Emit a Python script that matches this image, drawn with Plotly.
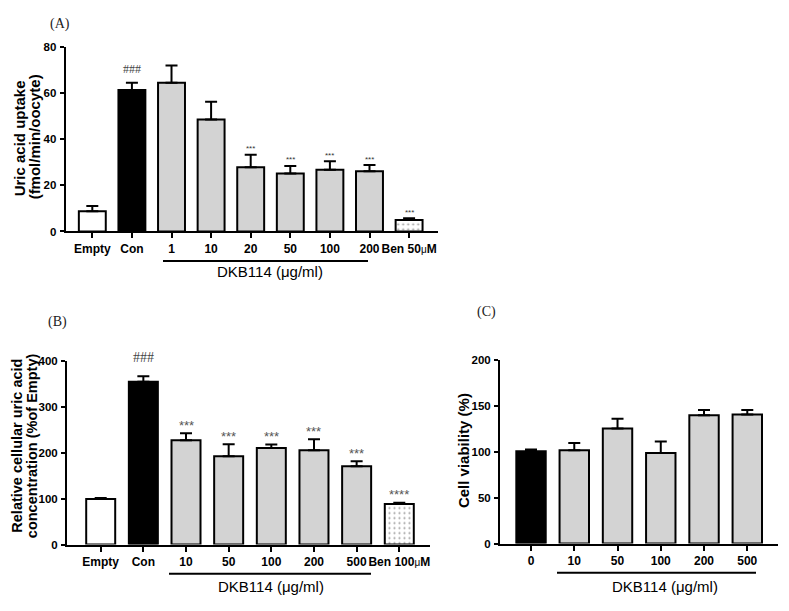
import plotly.graph_objects as go

W, H = 789, 611

# ---------------- data ----------------
a_labels = ["Empty", "Con", "1", "10", "20", "50", "100", "200", "Ben 50μM"]
a_values = [8.8, 61.3, 64.5, 48.5, 27.8, 25.1, 26.7, 26.1, 5.0]
a_errors = [2.2, 3.2, 7.4, 7.7, 5.5, 3.3, 3.7, 2.7, 0.7]
a_marks = ["", "###", "", "", "***", "***", "***", "***", "***"]

b_labels = ["Empty", "Con", "10", "50", "100", "200", "500", "Ben 100μM"]
b_values = [99, 354, 227, 192, 210, 205, 170, 88]
b_errors = [2, 12, 15, 26, 7.5, 24, 11, 3]
b_marks = ["", "###", "***", "***", "***", "***", "***", "****"]

c_labels = ["0", "10", "50", "100", "200", "500"]
c_values = [100.5, 101.7, 125.2, 98.5, 139.8, 140.5]
c_errors = [2.0, 7.8, 10.7, 12.5, 5.7, 5.0]

group_label = "DKB114 (μg/ml)"

WHITE, BLACK, GREY = "#ffffff", "#000000", "#d3d3d3"
c_colors = [BLACK] + [GREY] * 5
a_pat = [""] * 8 + ["."]
b_pat = [""] * 7 + ["."]
c_pat = [""] * 6
a_fill = [WHITE, BLACK] + [GREY] * 6 + [WHITE]
b_fill = [WHITE, BLACK] + [GREY] * 5 + [WHITE]


def px_x(x):
    return x / W


def px_y(y):
    return 1 - y / H


def xdom(a, b):
    return [a / W, b / W]


def ydom(top, bottom):
    return [1 - bottom / H, 1 - top / H]


def tick_html(lbl):
    if "μM" in lbl:
        head = lbl.replace("μM", "")
        return head + "<span style='font-size:10px;font-weight:normal'>μ</span>M"
    return lbl


fig = go.Figure()


def add_bars(labels, values, errors, fill, pat, xa, ya):
    xs = list(range(len(labels)))
    fig.add_trace(go.Bar(
        x=xs, y=values, width=0.68,
        marker=dict(color=fill, line=dict(color=BLACK, width=2),
                    pattern=dict(shape=pat, fgcolor="#999999", bgcolor=WHITE,
                                 size=5, solidity=0.15)),
        error_y=dict(type="data", symmetric=False, array=errors,
                     arrayminus=[0] * len(errors), color=BLACK,
                     thickness=2, width=6),
        xaxis=xa, yaxis=ya, showlegend=False, hoverinfo="skip",
    ))


add_bars(a_labels, a_values, a_errors, a_fill, a_pat, "x", "y")
add_bars(b_labels, b_values, b_errors, b_fill, b_pat, "x2", "y2")
add_bars(c_labels, c_values, c_errors, c_colors, c_pat, "x3", "y3")

sans = "Liberation Sans, Arial, sans-serif"
serif = "Liberation Serif, Times New Roman, serif"

tickfont = dict(family=sans, size=12, color=BLACK, weight="bold")
ytickfont = dict(family=sans, size=11.5, color=BLACK, weight="bold")

common_x = dict(showline=True, linecolor=BLACK, linewidth=2, ticks="outside",
                ticklen=5, tickwidth=2, tickcolor=BLACK, showgrid=False,
                zeroline=False, tickfont=tickfont, tickangle=0,
                ticklabelstandoff=0, fixedrange=True)
common_y = dict(showline=True, linecolor=BLACK, linewidth=2, ticks="outside",
                ticklen=4, tickwidth=2, tickcolor=BLACK, showgrid=False,
                zeroline=False, tickfont=ytickfont, fixedrange=True,
                ticklabelstandoff=1)

fig.update_layout(
    width=W, height=H,
    margin=dict(l=0, r=0, t=0, b=0),
    paper_bgcolor="white", plot_bgcolor="white",
    xaxis=dict(domain=xdom(65.7, 438), range=[-0.672, 8.73], anchor="y",
               tickvals=list(range(len(a_labels))),
               ticktext=[tick_html(s) for s in a_labels], **common_x),
    yaxis=dict(domain=ydom(41.7, 230), range=[0, 80], anchor="x",
               tickvals=[0, 20, 40, 60, 80], **common_y),
    xaxis2=dict(domain=xdom(67, 430), range=[-0.79, 7.72], anchor="y2",
                tickvals=list(range(len(b_labels))),
                ticktext=[tick_html(s) for s in b_labels], **common_x),
    yaxis2=dict(domain=ydom(361.7, 549.3), range=[0, 400], anchor="x2",
                tickvals=[0, 100, 200, 300, 400], **common_y),
    xaxis3=dict(domain=xdom(500, 778), range=[-0.717, 5.71], anchor="y3",
                tickvals=list(range(len(c_labels))),
                ticktext=c_labels, **common_x),
    yaxis3=dict(domain=ydom(361, 548.3), range=[0, 200], anchor="x3",
                tickvals=[0, 50, 100, 150, 200], **common_y),
)

ann = []


def text(x, y, t, size, family=sans, color=BLACK, angle=0, weight="normal"):
    ann.append(dict(x=px_x(x), y=px_y(y), xref="paper", yref="paper", text=t,
                    showarrow=False, xanchor="center", yanchor="middle",
                    textangle=angle,
                    font=dict(family=family, size=size, color=color,
                              weight=weight)))


# panel letters
text(59.5, 18, "(A)", 14, family=serif, color="#222222")
text(57.5, 322, "(B)", 14, family=serif, color="#222222")
text(486, 312, "(C)", 14, family=serif, color="#222222")

# y titles
text(19, 135, "Uric acid uptake", 15, angle=-90, weight="bold")
text(34, 134, "(fmol/min/oocyte)", 15, angle=-90, weight="bold")
text(17.5, 449, "Relative cellular uric acid", 14.5, angle=-90, weight="bold")
text(32, 449, "concentration (%of Empty)", 14.5, angle=-90, weight="bold")
text(463, 453, "Cell viability (%)", 15, angle=-90, weight="bold")

# group labels
text(270, 271, group_label, 15)
text(271, 592, group_label, 15)
text(665, 592, group_label, 15)

# significance marks
for i, m in enumerate(a_marks):
    if not m:
        continue
    if m.startswith("#"):
        ann.append(dict(x=i, y=a_values[i] + a_errors[i], xref="x", yref="y",
                        text=m, showarrow=False, yanchor="middle", yshift=14,
                        font=dict(family=serif, size=12, color="#444444")))
    else:
        ann.append(dict(x=i, y=a_values[i] + a_errors[i], xref="x", yref="y",
                        text=m, showarrow=False, yanchor="middle", yshift=6,
                        font=dict(family=sans, size=8, color="#333333")))

for i, m in enumerate(b_marks):
    if not m:
        continue
    if m.startswith("#"):
        ann.append(dict(x=i, y=b_values[i] + b_errors[i], xref="x2", yref="y2",
                        text=m, showarrow=False, yanchor="middle", yshift=19,
                        font=dict(family=serif, size=14, color="#444444")))
    else:
        ann.append(dict(x=i, y=b_values[i] + b_errors[i], xref="x2", yref="y2",
                        text=m, showarrow=False, yanchor="middle", yshift=8,
                        font=dict(family=sans, size=13, color="#555555")))

fig.update_layout(annotations=ann)

# group underline bars
shapes = []
for x0, x1, y in [(163, 368, 260), (169, 371, 579), (557, 756, 578)]:
    shapes.append(dict(type="line", xref="paper", yref="paper",
                       x0=px_x(x0), x1=px_x(x1), y0=px_y(y), y1=px_y(y),
                       line=dict(color=BLACK, width=2)))
fig.update_layout(shapes=shapes)

fig.write_html(
    "out.html",
    config={"displayModeBar": False},
    post_script="document.body.style.margin='0px';"
                "document.body.style.overflow='hidden';",
)
